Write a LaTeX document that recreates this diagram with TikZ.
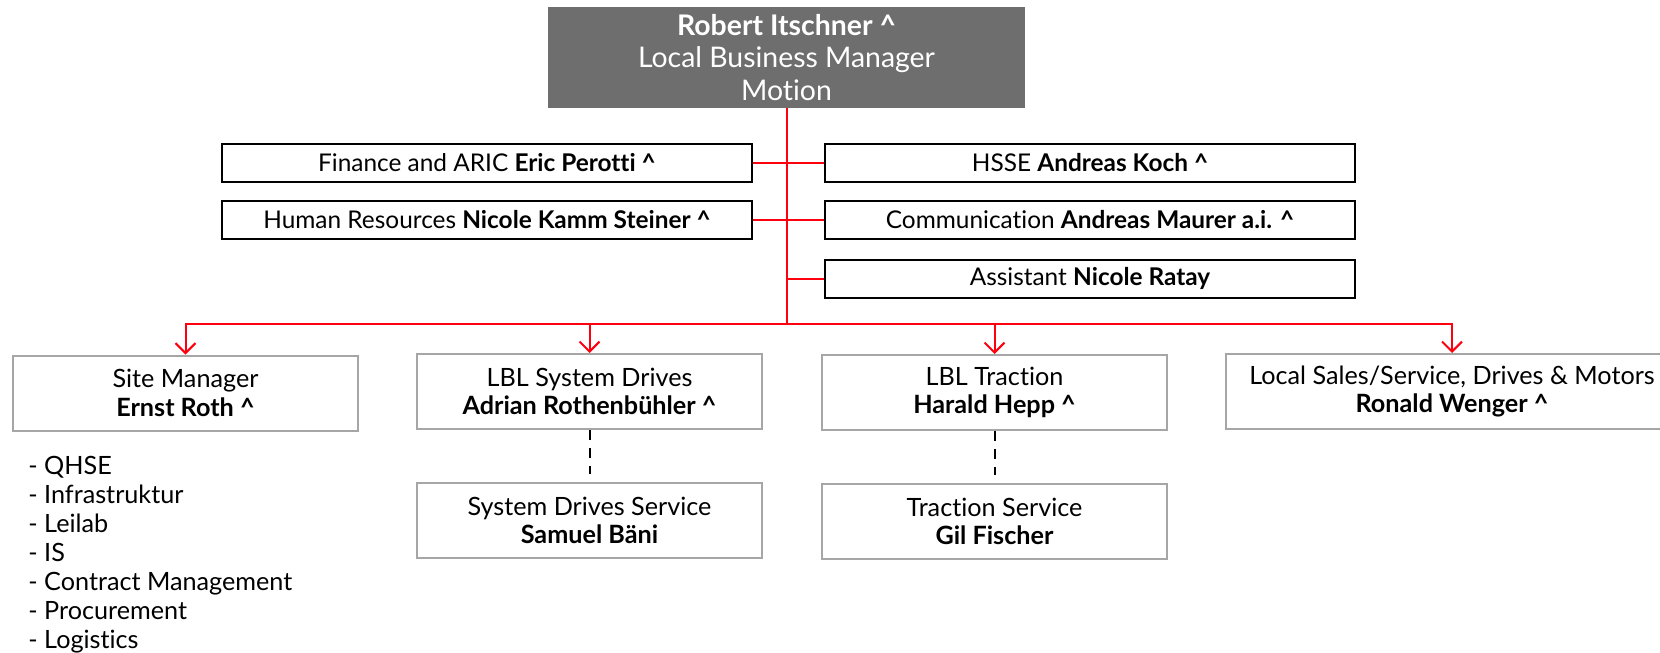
\documentclass[tikz,border=0pt]{standalone}
\usepackage{fontspec}
\setmainfont{Lato}[Ligatures=NoCommon]
\usetikzlibrary{arrows.meta}
\definecolor{abbred}{HTML}{FF000F}
\definecolor{boxgray}{HTML}{6E6E6E}
\definecolor{linegray}{HTML}{A6A6A6}

\begin{document}
\begin{tikzpicture}[x=0.5pt,y=-0.5pt,
  chef/.style={fill=boxgray, text=white, minimum width=238.5pt, minimum height=50.5pt,
    align=center, inner sep=0pt, font=\fontsize{14.2}{16.2}\selectfont},
  stab/.style={draw=black, line width=1pt, minimum width=265pt, minimum height=19pt,
    inner sep=0pt, font=\fontsize{12.2}{14.4}\selectfont},
  unit/.style={draw=linegray, line width=1pt, minimum width=172.5pt, minimum height=37.5pt,
    align=center, inner sep=0pt, font=\fontsize{12.6}{14.4}\selectfont},
  redline/.style={abbred, line width=1pt},
  pfeil/.style={redline, -{Straight Barb[length=5pt,width=10pt]}},
  strich/.style={line width=1pt, dash pattern=on 5pt off 4pt, shorten >=4pt},
]
\useasboundingbox (0,0) rectangle (1660,653);

% 顶部的负责人
\node[chef] (chef) at (786.5,57.5) {\textbf{Robert Itschner \^{}}\\Local Business Manager\\Motion};

% 左右两侧的职能部门
\node[stab] (fin) at (487,163) {Finance and ARIC \textbf{Eric Perotti \^{}}};
\node[stab] (hr) at (487,220) {Human Resources \textbf{Nicole Kamm Steiner \^{}}};
\node[stab] (hsse) at (1090,163) {HSSE \textbf{Andreas Koch \^{}}};
\node[stab] (comm) at (1090,220) {Communication \textbf{Andreas Maurer a.i. \^{}}};
\node[stab] (asst) at (1090,278.5) {Assistant \textbf{Nicole Ratay}};

% 下面的业务单元
\node[unit] (site) at (185.5,393) {Site Manager\\\textbf{Ernst Roth \^{}}};
\node[unit] (sysdr) at (589.5,391.5) {LBL System Drives\\\textbf{Adrian Rothenbühler \^{}}};
\node[unit] (trac) at (994.5,392.5) {LBL Traction\\\textbf{Harald Hepp \^{}}};
\node[unit, minimum width=226pt] (sales) at (1452,391.5) {Local Sales/Service, Drives \& Motors\\\textbf{Ronald Wenger \^{}}};
\node[unit] (sdserv) at (589.5,520.5) {System Drives Service\\\textbf{Samuel Bäni}};
\node[unit] (trserv) at (994.5,521.5) {Traction Service\\\textbf{Gil Fischer}};

% 站点经理的任务列表
\node[anchor=north west, align=left, inner sep=0pt, font=\fontsize{12.6}{14.45}\selectfont] (aufgaben) at (28,456)
  {- QHSE\\- Infrastruktur\\- Leilab\\- IS\\- Contract Management\\- Procurement\\- Logistics};

% 红色连接线
\coordinate (bus) at (786.5,324);
\draw[redline] (chef.south) -- (bus);
\draw[redline] (fin.east) -- (hsse.west);
\draw[redline] (hr.east) -- (comm.west);
\draw[redline] (asst.west) -- (asst.west -| bus);
\foreach \ziel in {site, sysdr, trac, sales} {
    \draw[pfeil] (bus) -| (\ziel.north);
}

% 虚线连接服务部门
\draw[strich] (sysdr.south) -- (sdserv.north);
\draw[strich] (trac.south) -- (trserv.north);

\end{tikzpicture}
\end{document}
